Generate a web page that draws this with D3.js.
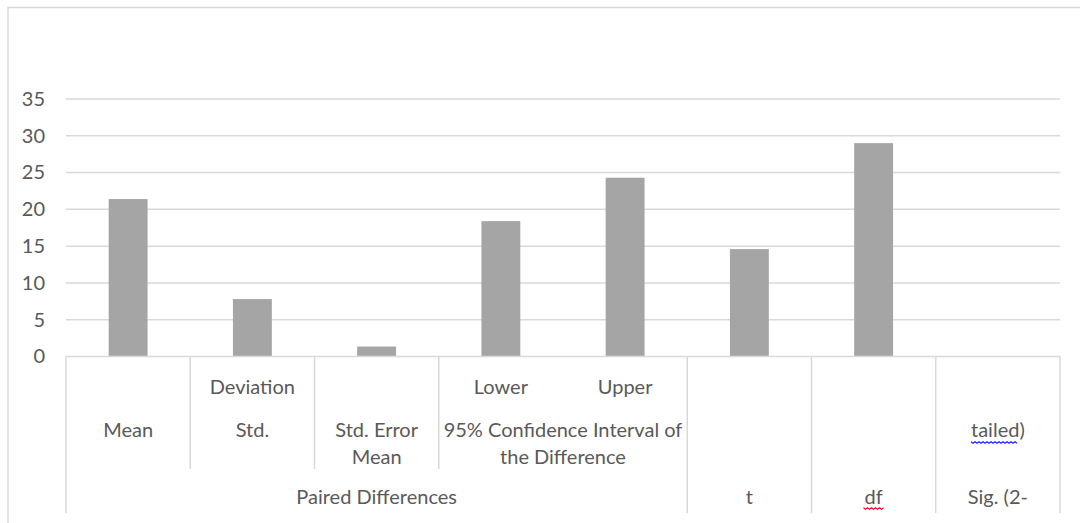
<!DOCTYPE html>
<html>
<head>
<meta charset="utf-8">
<script src="https://cdn.jsdelivr.net/npm/d3@7"></script>
<style>
  html, body { margin: 0; padding: 0; background: #fff; }
  svg { display: block; }
  text { font-family: Lato, "Open Sans", sans-serif; fill: #595959; }
</style>
</head>
<body>
<svg id="chart" width="1080" height="523"></svg>
<script>
// ---- data ----
const categories = ["Mean", "Std. Deviation", "Std. Error Mean", "Lower", "Upper", "t", "df", "Sig. (2-tailed)"];
const values = [21.4, 7.8, 1.35, 18.4, 24.3, 14.6, 29.0, 0];
const yTicks = [0, 5, 10, 15, 20, 25, 30, 35];

// multi-level category labels (level 1 = nearest the axis)
const level1Labels = ["", "Deviation", "", "Lower", "Upper", "", "", ""];
const level2Groups = [
  { lines: ["Mean"], from: 0, to: 1 },
  { lines: ["Std."], from: 1, to: 2 },
  { lines: ["Std. Error", "Mean"], from: 2, to: 3 },
  { lines: ["95% Confidence Interval of", "the Difference"], from: 3, to: 5 },
  { lines: [], from: 5, to: 6 },
  { lines: [], from: 6, to: 7 },
  { lines: ["tailed)"], from: 7, to: 8, squiggle: "#1f1fff" }
];
const level3Groups = [
  { label: "Paired Differences", from: 0, to: 5 },
  { label: "t", from: 5, to: 6 },
  { label: "df", from: 6, to: 7, squiggle: "#e0102a" },
  { label: "Sig. (2-", from: 7, to: 8 }
];

// ---- layout ----
const svg = d3.select("#chart");
const plot = { left: 66, right: 1060, top: 99, bottom: 356.5 };
const fontSize = 20;

const x = d3.scaleBand().domain(d3.range(categories.length)).range([plot.left, plot.right]).padding(0);
const xPos = d3.scaleLinear().domain([0, categories.length]).range([plot.left, plot.right]);
const y = d3.scaleLinear().domain([0, 35]).range([plot.bottom, plot.top]);

// chart border
svg.append("path")
  .attr("d", `M8,1100 L8,7.5 L1100,7.5`)
  .attr("fill", "none").attr("stroke", "#d9d9d9").attr("stroke-width", 1.5);

// gridlines
svg.append("g").selectAll("line").data(yTicks.filter(d => d > 0)).join("line")
  .attr("x1", plot.left).attr("x2", plot.right)
  .attr("y1", d => y(d)).attr("y2", d => y(d))
  .attr("stroke", "#d9d9d9").attr("stroke-width", 1.5);

// y axis labels
const yAxis = d3.axisLeft(y).tickValues(yTicks).tickSize(0).tickPadding(0);
const gy = svg.append("g").attr("transform", `translate(45,0)`).call(yAxis);
gy.select(".domain").remove();
gy.selectAll("text").attr("font-size", fontSize).style("font-family", "Lato, sans-serif").attr("fill", "#595959");

// bars
const barFrac = 0.313;
svg.append("g").selectAll("rect").data(values).join("rect")
  .attr("x", (d, i) => x(i) + x.bandwidth() * (1 - barFrac) / 2)
  .attr("width", x.bandwidth() * barFrac)
  .attr("y", d => y(d))
  .attr("height", d => y(0) - y(d))
  .attr("fill", "#a5a5a5");

// category axis line
svg.append("line")
  .attr("x1", plot.left).attr("x2", plot.right)
  .attr("y1", y(0)).attr("y2", y(0))
  .attr("stroke", "#d9d9d9").attr("stroke-width", 1.5);

// vertical separators
const lvl2Bounds = Array.from(new Set(level2Groups.flatMap(g => [g.from, g.to])));
const lvl3Bounds = Array.from(new Set(level3Groups.flatMap(g => [g.from, g.to])));
svg.append("g").selectAll("line").data(lvl2Bounds.filter(b => !lvl3Bounds.includes(b))).join("line")
  .attr("x1", d => xPos(d)).attr("x2", d => xPos(d))
  .attr("y1", y(0)).attr("y2", 469)
  .attr("stroke", "#d9d9d9").attr("stroke-width", 1.5);
svg.append("g").selectAll("line").data(lvl3Bounds).join("line")
  .attr("x1", d => xPos(d)).attr("x2", d => xPos(d))
  .attr("y1", y(0)).attr("y2", 513)
  .attr("stroke", "#d9d9d9").attr("stroke-width", 1.5);

function squiggle(g, x0, x1, yy, color) {
  const pts = [];
  const step = 2;
  for (let xx = x0, k = 0; xx <= x1; xx += step, k++) pts.push([xx, yy + (k % 2 ? 1.3 : -0.3)]);
  g.append("path").attr("d", d3.line()(pts)).attr("fill", "none").attr("stroke", color).attr("stroke-width", 1.2);
}

// level 1 labels
svg.append("g").selectAll("text").data(level1Labels).join("text")
  .attr("x", (d, i) => x(i) + x.bandwidth() / 2)
  .attr("y", 387).attr("dy", "0.35em")
  .attr("text-anchor", "middle").attr("font-size", fontSize)
  .text(d => d);

// level 2 labels
const g2 = svg.append("g");
level2Groups.forEach(gr => {
  const cx = (xPos(gr.from) + xPos(gr.to)) / 2;
  gr.lines.forEach((ln, k) => {
    const t = g2.append("text").attr("x", cx).attr("y", 430 + k * 27).attr("dy", "0.35em")
      .attr("text-anchor", "middle").attr("font-size", fontSize).text(ln);
    if (gr.squiggle) {
      const w = t.node().getComputedTextLength();
      squiggle(g2, cx - w / 2, cx + w / 2 - 6, 442, gr.squiggle);
    }
  });
});

// level 3 labels
const g3 = svg.append("g");
level3Groups.forEach(gr => {
  const cx = (xPos(gr.from) + xPos(gr.to)) / 2;
  const t = g3.append("text").attr("x", cx).attr("y", 497).attr("dy", "0.35em")
    .attr("text-anchor", "middle").attr("font-size", fontSize).text(gr.label);
  if (gr.squiggle) {
    const w = t.node().getComputedTextLength();
    squiggle(g3, cx - w / 2 - 1, cx + w / 2 + 1, 508, gr.squiggle);
  }
});
</script>
</body>
</html>
